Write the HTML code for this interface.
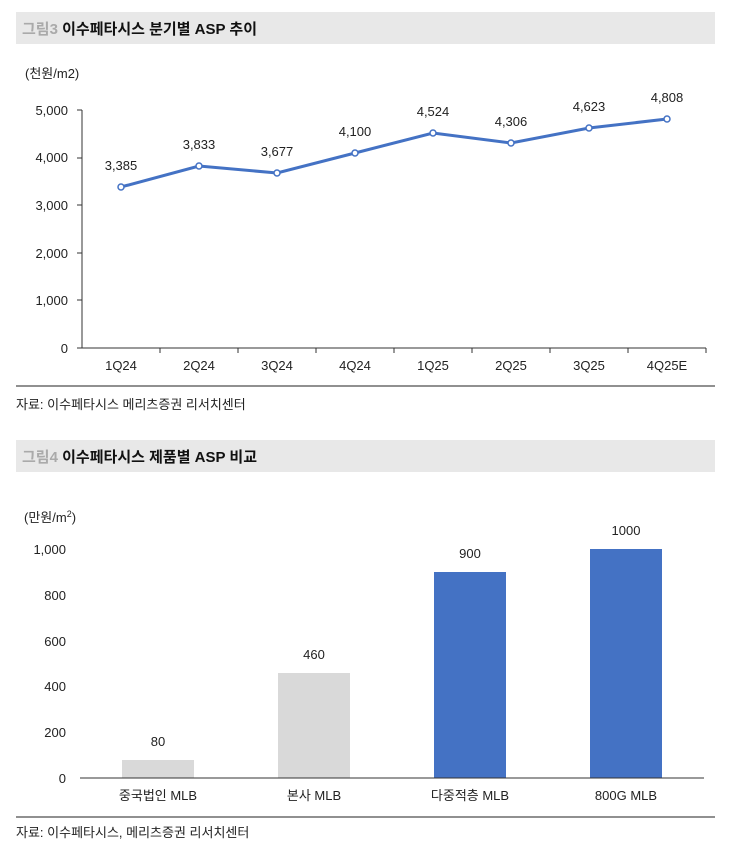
<!DOCTYPE html>
<html><head><meta charset="utf-8"><style>
body{margin:0;background:#fff;width:735px;height:850px;overflow:hidden;font-family:"Liberation Sans","Noto Sans CJK KR",sans-serif;}
svg text{font-family:"Liberation Sans","Noto Sans CJK KR",sans-serif;}
</style></head><body>
<svg width="735" height="850" xmlns="http://www.w3.org/2000/svg">
<rect x="16" y="12" width="699" height="32" fill="#e8e8e8"/>
<text x="22" y="34" font-size="15" font-weight="bold"><tspan fill="#aaa">그림3</tspan><tspan fill="#111"> 이수페타시스 분기별 ASP 추이</tspan></text>
<text x="25" y="78" font-size="13" fill="#222">(천원/m2)</text>
<g font-size="13" fill="#222" text-anchor="end">
<text x="68" y="353">0</text><text x="68" y="305">1,000</text><text x="68" y="258">2,000</text><text x="68" y="210">3,000</text><text x="68" y="162">4,000</text><text x="68" y="115">5,000</text>
</g>
<g stroke="#333" stroke-width="1">
<line x1="82" y1="110" x2="82" y2="348"/><line x1="82" y1="348" x2="706" y2="348"/>
<line x1="77" y1="110" x2="82" y2="110"/><line x1="77" y1="158" x2="82" y2="158"/><line x1="77" y1="205" x2="82" y2="205"/><line x1="77" y1="253" x2="82" y2="253"/><line x1="77" y1="300" x2="82" y2="300"/><line x1="77" y1="348" x2="82" y2="348"/>
<line x1="160" y1="348" x2="160" y2="353"/><line x1="238" y1="348" x2="238" y2="353"/><line x1="316" y1="348" x2="316" y2="353"/><line x1="394" y1="348" x2="394" y2="353"/><line x1="472" y1="348" x2="472" y2="353"/><line x1="550" y1="348" x2="550" y2="353"/><line x1="628" y1="348" x2="628" y2="353"/><line x1="706" y1="348" x2="706" y2="353"/>
</g>
<g font-size="13" fill="#222" text-anchor="middle">
<text x="121" y="370">1Q24</text><text x="199" y="370">2Q24</text><text x="277" y="370">3Q24</text><text x="355" y="370">4Q24</text><text x="433" y="370">1Q25</text><text x="511" y="370">2Q25</text><text x="589" y="370">3Q25</text><text x="667" y="370">4Q25E</text>
</g>
<polyline fill="none" stroke="#4472c4" stroke-width="3" points="121,187 199,166 277,173 355,153 433,133 511,143 589,128 667,119"/>
<g fill="#fff" stroke="#4472c4" stroke-width="1.5">
<circle cx="121" cy="187" r="3"/><circle cx="199" cy="166" r="3"/><circle cx="277" cy="173" r="3"/><circle cx="355" cy="153" r="3"/><circle cx="433" cy="133" r="3"/><circle cx="511" cy="143" r="3"/><circle cx="589" cy="128" r="3"/><circle cx="667" cy="119" r="3"/>
</g>
<g font-size="13" fill="#222" text-anchor="middle">
<text x="121" y="170">3,385</text><text x="199" y="149">3,833</text><text x="277" y="156">3,677</text><text x="355" y="136">4,100</text><text x="433" y="116">4,524</text><text x="511" y="126">4,306</text><text x="589" y="111">4,623</text><text x="667" y="102">4,808</text>
</g>
<line x1="16" y1="386" x2="715" y2="386" stroke="#222" stroke-width="1"/>
<text x="16" y="409" font-size="13" fill="#222">자료: 이수페타시스 메리츠증권 리서치센터</text>

<rect x="16" y="440" width="699" height="32" fill="#e8e8e8"/>
<text x="22" y="462" font-size="15" font-weight="bold"><tspan fill="#aaa">그림4</tspan><tspan fill="#111">  이수페타시스 제품별 ASP 비교</tspan></text>
<text x="24" y="522" font-size="13" fill="#222">(만원/m<tspan font-size="9" dy="-5">2</tspan><tspan dy="5">)</tspan></text>
<g font-size="13" fill="#222" text-anchor="end">
<text x="66" y="783">0</text><text x="66" y="737">200</text><text x="66" y="691">400</text><text x="66" y="646">600</text><text x="66" y="600">800</text><text x="66" y="554">1,000</text>
</g>
<rect x="122" y="760" width="72" height="18" fill="#d9d9d9"/>
<rect x="278" y="673" width="72" height="105" fill="#d9d9d9"/>
<rect x="434" y="572" width="72" height="206" fill="#4472c4"/>
<rect x="590" y="549" width="72" height="229" fill="#4472c4"/>
<line x1="80" y1="778" x2="704" y2="778" stroke="#333"/>
<g font-size="13" fill="#222" text-anchor="middle">
<text x="158" y="746">80</text><text x="314" y="659">460</text><text x="470" y="558">900</text><text x="626" y="535">1000</text>
<text x="158" y="800">중국법인 MLB</text><text x="314" y="800">본사 MLB</text><text x="470" y="800">다중적층 MLB</text><text x="626" y="800">800G MLB</text>
</g>
<line x1="16" y1="817" x2="715" y2="817" stroke="#222" stroke-width="1"/>
<text x="16" y="837" font-size="13" fill="#222">자료: 이수페타시스, 메리츠증권 리서치센터</text>
</svg>
</body></html>
